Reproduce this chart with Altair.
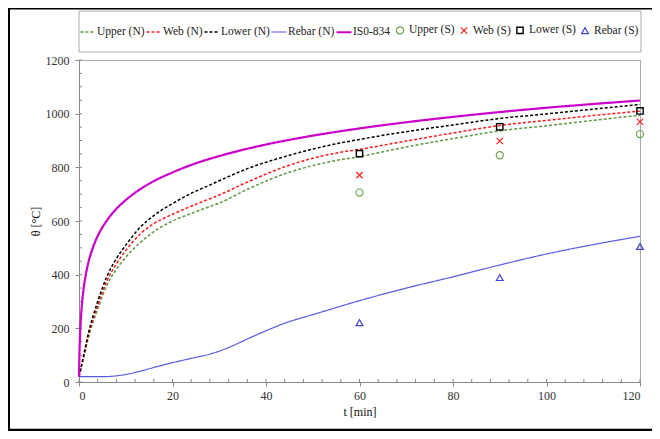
import altair as alt
import pandas as pd

# ---------------- data ----------------
series_names = ["Upper (N)", "Web (N)", "Lower (N)", "Rebar (N)", "IS0-834",
                "Upper (S)", "Web (S)", "Lower (S)", "Rebar (S)"]

t_iso = [0, 0.1, 0.25, 0.5, 1, 1.5, 2, 3, 4, 5, 7.5, 10, 15, 20, 25, 30, 35, 40,
         50, 60, 70, 80, 90, 100, 110, 120]
iso_834 = [20, 108, 185, 261, 349, 404, 445, 502, 544, 576, 636, 678, 739, 781, 815,
           842, 865, 885, 918, 945, 968, 988, 1006, 1022, 1036, 1049]

t_num = [0, 1, 2, 4, 6, 8, 10, 13, 16, 20, 24, 28, 30, 36, 44, 54, 60, 70, 80, 90,
         100, 110, 120]
upper_n = [20, 90, 165, 272, 362, 420, 465, 518, 560, 600, 628, 654, 667, 718, 776,
           822, 840, 876, 907, 936, 955, 975, 994]
web_n = [20, 95, 172, 285, 378, 440, 490, 550, 590, 625, 655, 683, 697, 745, 802,
         850, 867, 898, 928, 956, 975, 993, 1010]
lower_n = [20, 100, 181, 300, 395, 460, 510, 575, 620, 665, 703, 734, 750, 795, 840,
           884, 904, 933, 958, 982, 999, 1017, 1034]

t_rebar = [0, 5, 8, 10, 13, 16, 20, 24, 28, 30, 33, 36, 40, 44, 50, 54, 60, 70, 80,
           90, 100, 110, 120]
rebar_n = [20, 20, 23, 28, 40, 54, 72, 88, 104, 115, 136, 160, 191, 219, 251, 272,
           303, 350, 392, 436, 477, 512, 543]

t_test = [60, 90, 120]
upper_s = [706, 845, 924]
web_s = [771, 898, 970]
lower_s = [851, 951, 1010]
rebar_s = [221, 389, 505]

x_major = [0, 20, 40, 60, 80, 100, 120]
y_major = [0, 200, 400, 600, 800, 1000, 1200]
x_minor = list(range(0, 121, 4))
y_minor = list(range(0, 1201, 50))

# ---------------- styles ----------------
colors = ["#5e9640", "#ff1a1a", "#000000", "#5a5ae6", "#cc00cc",
          "#6aa046", "#ff2020", "#000000", "#4040d0"]
dashes = [[3, 2], [3, 2], [3, 2], [1, 0], [1, 0], [1, 0], [1, 0], [1, 0], [1, 0]]
widths = [1.5, 1.5, 1.5, 1.2, 2.2, 1.2, 1.2, 1.4, 1.2]
shapes = ["stroke"] * 5 + ["circle", "M-1,-1L1,1M-1,1L1,-1", "square", "triangle-up"]
sizes = [225] * 5 + [50, 40, 40, 45]

# ---------------- tables ----------------
rows = []
for name, ts, vs in [("Upper (N)", t_num, upper_n), ("Web (N)", t_num, web_n),
                     ("Lower (N)", t_num, lower_n), ("Rebar (N)", t_rebar, rebar_n),
                     ("IS0-834", t_iso, iso_834)]:
    for t, v in zip(ts, vs):
        rows.append({"t": t, "theta": v, "series": name})
lines_df = pd.DataFrame(rows)

prow = []
for name, vs in [("Upper (S)", upper_s), ("Web (S)", web_s),
                 ("Lower (S)", lower_s), ("Rebar (S)", rebar_s)]:
    for t, v in zip(t_test, vs):
        prow.append({"t": t, "theta": v, "series": name})
points_df = pd.DataFrame(prow)

FONT = "Liberation Serif, Times New Roman, Times, serif"

legend = alt.Legend(title=None, orient="none", legendX=0, legendY=-37,
                    direction="horizontal", columns=9, labelFont=FONT,
                    labelFontSize=11.5, labelColor="#222", columnPadding=-3,
                    labelOffset=0, padding=0)

xscale = alt.Scale(domain=[0, 120], nice=False)
yscale = alt.Scale(domain=[0, 1200], nice=False)

x_enc = alt.X("t:Q", scale=xscale,
              axis=alt.Axis(values=x_major, title="t [min]", tickSize=4, labelPadding=4,
                            format="d",
                            titleX=280.5, titleY=29, titleBaseline="middle",
                            titleFontWeight="normal"))
y_enc = alt.Y("theta:Q", scale=yscale,
              axis=alt.Axis(values=y_major, title="θ [°C]", tickSize=4, labelPadding=6,
                            format="d",
                            titleX=-44, titleY=161, titleAngle=270,
                            titleBaseline="middle", titleAlign="center",
                            titleFontWeight="normal"))

color_enc = alt.Color("series:N", scale=alt.Scale(domain=series_names, range=colors),
                      legend=legend)
dash_enc = alt.StrokeDash("series:N", scale=alt.Scale(domain=series_names, range=dashes),
                          legend=legend)
width_enc = alt.StrokeWidth("series:N",
                            scale=alt.Scale(type="ordinal", domain=series_names, range=widths),
                            legend=legend)
shape_enc = alt.Shape("series:N", scale=alt.Scale(domain=series_names, range=shapes),
                      legend=legend)
size_enc = alt.Size("series:N",
                    scale=alt.Scale(type="ordinal", domain=series_names, range=sizes),
                    legend=legend)

dummy = pd.DataFrame({"a": [0]})

# outer frame and legend box
frame_left = alt.Chart(dummy).mark_rule(color="black", strokeWidth=2).encode(
    x=alt.value(-70), y=alt.value(-52), y2=alt.value(371))
frame_top = alt.Chart(dummy).mark_rule(color="black", strokeWidth=1.5).encode(
    y=alt.value(-51.25), x=alt.value(-71), x2=alt.value(573))
frame_bottom = alt.Chart(dummy).mark_rule(color="black", strokeWidth=2.5).encode(
    y=alt.value(370), x=alt.value(-71), x2=alt.value(573))
legend_box = alt.Chart(dummy).mark_rect(fill="white", stroke="#aaaaaa", strokeWidth=1).encode(
    x=alt.value(0), x2=alt.value(562), y=alt.value(-49), y2=alt.value(-8))

lines = alt.Chart(lines_df).mark_line(interpolate="monotone").encode(
    x=x_enc, y=y_enc, color=color_enc, strokeDash=dash_enc, strokeWidth=width_enc)

points = alt.Chart(points_df).mark_point(filled=False, opacity=1).encode(
    x=x_enc, y=y_enc, color=color_enc, shape=shape_enc, size=size_enc,
    strokeWidth=width_enc)

xminor = alt.Chart(pd.DataFrame({"t": x_minor})).mark_rule(color="#888888").encode(
    x=alt.X("t:Q", scale=xscale), y=alt.value(319), y2=alt.value(322))
yminor = alt.Chart(pd.DataFrame({"theta": y_minor})).mark_rule(color="#888888").encode(
    y=alt.Y("theta:Q", scale=yscale), x=alt.value(0), x2=alt.value(3))

chart = alt.layer(frame_left, frame_top, frame_bottom, legend_box,
                  xminor, yminor, lines, points).properties(
    width=561, height=322,
    autosize=alt.AutoSizeParams(type="none"),
    padding={"left": 71, "top": 52, "right": 12, "bottom": 49},
).configure_view(stroke="#aaaaaa", strokeWidth=1).configure_axis(
    domainColor="#888888", tickColor="#888888", grid=False,
    labelFont=FONT, labelFontSize=12, labelColor="#333333",
    titleFont=FONT, titleFontSize=12, titleColor="#111111",
)

chart.save("out.html", embed_options={"renderer": "svg", "actions": False})
